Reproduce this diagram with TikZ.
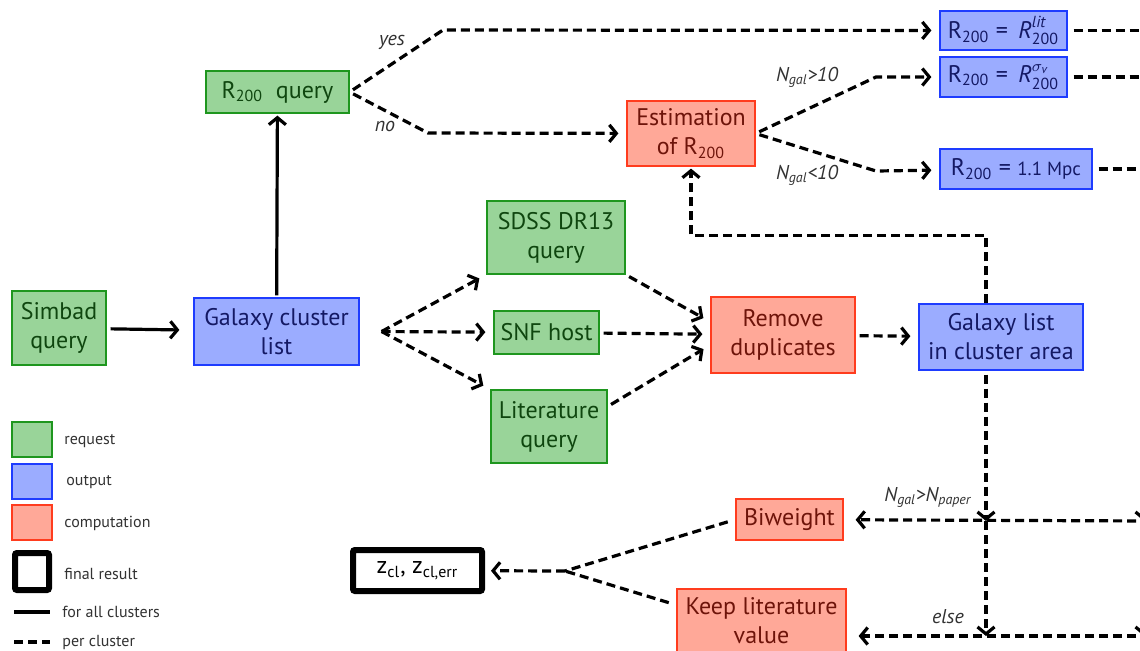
\documentclass[tikz,border=0pt]{standalone}
\usepackage{amsmath}
\usepackage{fontspec}
\setmainfont{PT Sans}
\usetikzlibrary{arrows.meta}
\definecolor{reqfill}{RGB}{153,212,153}
\definecolor{reqdraw}{RGB}{30,150,30}
\definecolor{reqtext}{RGB}{15,70,15}
\definecolor{outfill}{RGB}{155,172,255}
\definecolor{outdraw}{RGB}{30,60,255}
\definecolor{outtext}{RGB}{20,25,100}
\definecolor{compfill}{RGB}{255,168,152}
\definecolor{compdraw}{RGB}{255,60,30}
\definecolor{comptext}{RGB}{110,20,10}
\definecolor{lbl}{RGB}{50,50,50}

\begin{document}
\begin{tikzpicture}[x=0.5pt,y=-0.5pt,
  box/.style={draw,line width=0.6pt,inner sep=0pt,align=center,font=\fontsize{12}{14.5}\selectfont},
  request/.style={box,fill=reqfill,draw=reqdraw,text=reqtext},
  output/.style={box,fill=outfill,draw=outdraw,text=outtext},
  computation/.style={box,fill=compfill,draw=compdraw,text=comptext},
  final/.style={draw,line width=3pt,rounded corners=1pt,fill=white,inner sep=0pt,font=\fontsize{12}{14.5}\selectfont},
  allcl/.style={line width=1.6pt,-{Straight Barb[length=3.5pt,width=8.5pt]},shorten >=4pt,shorten <=2pt},
  percl/.style={allcl,dash pattern=on 4.5pt off 2.5pt},
  plain/.style={line width=1.6pt,dash pattern=on 4.5pt off 2.5pt,shorten <=2pt},
  cond/.style={font=\fontsize{10}{11}\selectfont\itshape,text=lbl},
  legtext/.style={font=\fontsize{8}{9}\selectfont,anchor=west,inner sep=0pt,text=lbl}]
\useasboundingbox (0,0) rectangle (1140,650);
\clip (0,0) rectangle (1140,650);

\node [request,minimum width=47pt,minimum height=37pt] (simbad) at (59,328) {Simbad\\query};
\node [output,minimum width=82.5pt,minimum height=33.5pt] (gcl) at (276.5,331.5) {Galaxy cluster\\list};
\node [request,minimum width=71.5pt,minimum height=21pt] (rq) at (277.5,92) {R\textsubscript{200}\ \ query};
\node [request,minimum width=69pt,minimum height=36.5pt] (sdss) at (556,237.5) {SDSS DR13\\query};
\node [request,minimum width=52.5pt,minimum height=21.5pt] (snf) at (546.5,332.5) {SNF host};
\node [request,minimum width=58pt,minimum height=36.5pt] (litq) at (549,426.5) {Literature\\query};
\node [computation,minimum width=72pt,minimum height=38pt] (remdup) at (783,335) {Remove\\duplicates};
\node [output,minimum width=82pt,minimum height=33pt] (gallist) at (1001,337) {Galaxy list\\in cluster area};
\node [computation,minimum width=64pt,minimum height=32.5pt] (est) at (691,133.5) {Estimation\\of R\textsubscript{200}};
\node [output,minimum width=63.5pt,minimum height=19.5pt] (rlit) at (1003.5,30.5) {R\textsubscript{200} = \,$\textit{R}^{\textit{lit}}_{\text{200}}$};
\node [output,minimum width=63.5pt,minimum height=20pt] (rsig) at (1003.5,77) {R\textsubscript{200} = \,$\textit{R}^{\sigma_{\textit{v}}}_{\text{200}}$};
\node [output,minimum width=76pt,minimum height=20pt] (rfix) at (1016,169) {R\textsubscript{200} = {\fontsize{9.5}{11}\selectfont 1.1 Mpc}};
\node [computation,minimum width=53.5pt,minimum height=20.5pt] (biw) at (789.5,519.5) {Biweight};
\node [computation,minimum width=84.5pt,minimum height=32pt] (keep) at (761.5,621) {Keep literature\\value};
\node [final,minimum width=64.5pt,minimum height=20.5pt] (zcl) at (417.5,570.5) {z\textsubscript{cl}, z\textsubscript{cl,err}};

\coordinate (fork) at ([xshift=11pt]gcl.east);
\coordinate (merge) at (565,571);
\coordinate (jb) at (986,521);
\coordinate (jk) at (986,636);
\coordinate (eb) at (1150,521);
\coordinate (ek) at (1150,636);
\coordinate (rb) at (1144,470);
\coordinate (rk) at (1144,570);

\draw [allcl,shorten >=7pt] (simbad) -- (gcl);
\draw [allcl,shorten >=1pt,shorten <=1pt] (gcl) -- (rq);
\draw [percl] (rq.east) -- (443,30) -- (rlit);
\draw [percl] (rq.east) -- (428,133) -- (est);
\draw [percl] (est.east) -- (876,77) -- (rsig);
\draw [percl] (est.east) -- (876,171) -- (rfix);
\draw [plain,shorten <=3pt] (rlit.east) -- ++(120,0);
\draw [plain,shorten <=3pt] (rsig.east) -- ++(120,0);
\draw [plain,shorten <=3pt] (rfix.east) -- ++(120,0);
\draw [percl,shorten <=0pt] (fork) -- (sdss.south west);
\draw [percl,shorten <=0pt] (fork) -- (snf);
\draw [percl,shorten <=0pt] (fork) -- (litq.north west);
\draw [percl] (sdss.south east) -- ([yshift=6.5pt]remdup.west);
\draw [percl] (snf) -- (remdup);
\draw [percl] ([yshift=10pt]litq.east) -- ([yshift=-5pt]remdup.west);
\draw [percl] (remdup) -- (gallist);
\draw [percl,shorten <=0pt,shorten >=1pt] ([xshift=-7.5pt]gallist.north) -- ++(0,-68) -| (est.south);
\draw [percl,shorten >=0pt] ([xshift=-7.5pt]gallist.south) -- (jb);
\draw [percl,shorten >=0pt,shorten <=0pt] (jb) -- (jk);
\draw [percl,shorten >=0pt,shorten <=0pt] (rb) -- (rb |- eb);
\draw [percl,shorten >=0pt,shorten <=0pt] (rk) -- (rk |- ek);
\draw [percl,shorten >=6pt,shorten <=0pt] (eb) -- (biw);
\draw [percl,shorten >=6pt,shorten <=0pt] (ek) -- (keep.east |- ek);
\draw [plain,shorten <=4pt] (biw.west) -- (merge);
\draw [plain,shorten <=4pt] ([yshift=8pt]keep.west) -- (merge);
\draw [percl,shorten <=0pt,shorten >=3pt] (merge) -- (zcl);

\node [cond] (yes) at (392,42) {yes};
\node [cond] (no) at (385,126) {no};
\node [cond] (ngt) at (807,77) {N\textsubscript{gal}>10};
\node [cond] (nlt) at (807,175) {N\textsubscript{gal}<10};
\node [cond] (npaper) at (928,497) {N\textsubscript{gal}>N\textsubscript{paper}};
\node [cond] (else) at (948,617) {else};

\node [request,minimum width=20pt,minimum height=17.5pt] (lreq) at (32,439.5) {};
\node [output,minimum width=20pt,minimum height=17.5pt] (lout) at (32,481.5) {};
\node [computation,minimum width=20pt,minimum height=17.5pt] (lcomp) at (32,522.5) {};
\node [final,minimum width=17pt,minimum height=18.5pt] (lfin) at (32,571.5) {};
\node [legtext] at (64,441) {request};
\node [legtext] at (66,482) {output};
\node [legtext] at (64,523) {computation};
\node [legtext] at (64,574) {final result};
\node [legtext] (lall) at (62,612) {for all clusters};
\node [legtext] (lper) at (62,642) {per cluster};
\draw [line width=1.6pt] ([xshift=-24pt]lall.west) -- ++(36,0);
\draw [line width=1.6pt,dash pattern=on 4.5pt off 2.5pt] ([xshift=-24pt]lper.west) -- ++(36,0);
\end{tikzpicture}
\end{document}
